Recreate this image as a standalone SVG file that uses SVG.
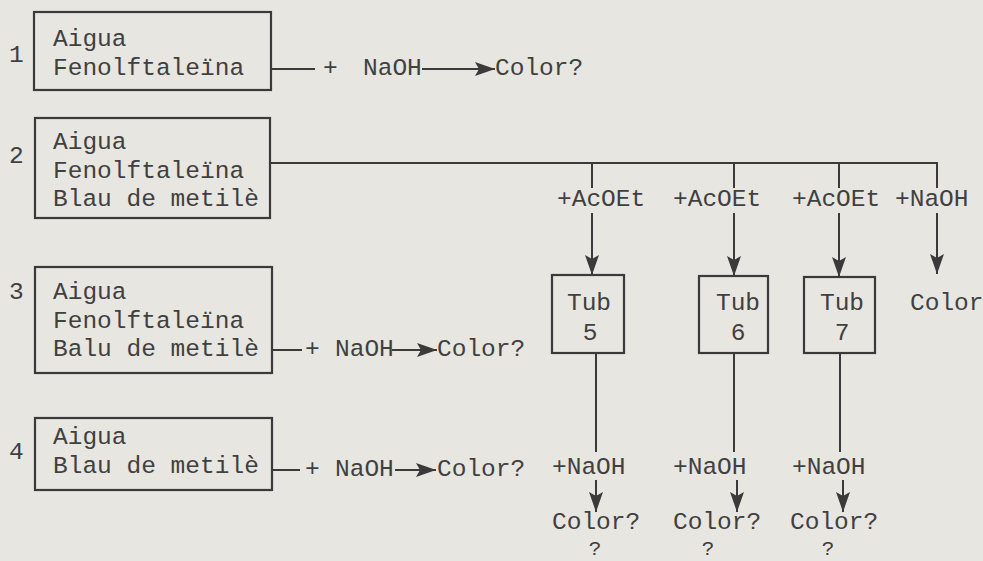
<svg xmlns="http://www.w3.org/2000/svg" width="983" height="561" viewBox="0 0 983 561">
<style>
.t{font-family:"Liberation Mono","DejaVu Sans Mono",monospace;font-size:24.5px;fill:#404040}
.q{font-size:21px}
.b{fill:none;stroke:#3a3a3a;stroke-width:2.2}
.c{fill:none;stroke:#3a3a3a;stroke-width:2}
.m{text-anchor:middle}
</style>
<defs>
<marker id="ah" viewBox="0 0 20 14" refX="20" refY="7" markerWidth="20" markerHeight="14" markerUnits="userSpaceOnUse" orient="auto">
<path d="M0,0 L20,7 L0,14 L4,7 z" fill="#3a3a3a"/>
</marker>
</defs>
<rect width="983" height="561" fill="#e8e6e1"/>

<g id="connectors">
<line class="c" x1="271" y1="69" x2="315" y2="69"/>
<line class="c" x1="422" y1="69" x2="495" y2="69" marker-end="url(#ah)"/>
<line class="c" x1="270" y1="163" x2="938" y2="163"/>
<line class="c" x1="592" y1="163" x2="592" y2="188"/>
<line class="c" x1="592" y1="213" x2="592" y2="275" marker-end="url(#ah)"/>
<line class="c" x1="734" y1="163" x2="734" y2="188"/>
<line class="c" x1="734" y1="213" x2="734" y2="276" marker-end="url(#ah)"/>
<line class="c" x1="839" y1="163" x2="839" y2="188"/>
<line class="c" x1="839" y1="213" x2="839" y2="277" marker-end="url(#ah)"/>
<line class="c" x1="937" y1="163" x2="937" y2="188"/>
<line class="c" x1="937" y1="213" x2="937" y2="274" marker-end="url(#ah)"/>
<line class="c" x1="272" y1="350" x2="302" y2="350"/>
<line class="c" x1="392" y1="350" x2="437" y2="350" marker-end="url(#ah)"/>
<line class="c" x1="272" y1="470" x2="300" y2="470"/>
<line class="c" x1="395" y1="470" x2="436" y2="470" marker-end="url(#ah)"/>
<line class="c" x1="596" y1="353" x2="596" y2="452"/>
<line class="c" x1="734" y1="353" x2="734" y2="452"/>
<line class="c" x1="840" y1="353" x2="840" y2="452"/>
<line class="c" x1="596" y1="480" x2="596" y2="512" marker-end="url(#ah)"/>
<line class="c" x1="737" y1="480" x2="737" y2="512" marker-end="url(#ah)"/>
<line class="c" x1="843" y1="480" x2="843" y2="512" marker-end="url(#ah)"/>
</g>

<g id="labels">
<text class="t" x="323" y="75">+</text>
<text class="t" x="363" y="75">NaOH</text>
<text class="t" x="495" y="75">Color?</text>
<text class="t" x="557" y="206">+AcOEt</text>
<text class="t" x="673" y="206">+AcOEt</text>
<text class="t" x="792" y="206">+AcOEt</text>
<text class="t" x="895" y="206">+NaOH</text>
<text class="t" x="910" y="310">Color</text>
<text class="t" x="305" y="356">+</text>
<text class="t" x="335" y="356">NaOH</text>
<text class="t" x="437" y="356">Color?</text>
<text class="t" x="305" y="476">+</text>
<text class="t" x="335" y="476">NaOH</text>
<text class="t" x="437" y="476">Color?</text>
<text class="t" x="552" y="474">+NaOH</text>
<text class="t" x="673" y="474">+NaOH</text>
<text class="t" x="792" y="474">+NaOH</text>
<text class="t" x="552" y="529">Color?</text>
<text class="t" x="673" y="529">Color?</text>
<text class="t" x="790" y="529">Color?</text>
<text class="t q m" x="595" y="554.5">?</text>
<text class="t q m" x="708" y="554.5">?</text>
<text class="t q m" x="828" y="554.5">?</text>
</g>

<g id="node1">
<text class="t" x="9" y="62">1</text>
<rect class="b" x="34" y="12" width="237" height="78"/>
<text class="t" x="53" y="46">Aigua</text>
<text class="t" x="53" y="75">Fenolftaleïna</text>
</g>
<g id="node2">
<text class="t" x="9" y="163">2</text>
<rect class="b" x="35" y="118" width="235" height="100"/>
<text class="t" x="53" y="149">Aigua</text>
<text class="t" x="53" y="178">Fenolftaleïna</text>
<text class="t" x="53" y="206">Blau de metilè</text>
</g>
<g id="node3">
<text class="t" x="9" y="299">3</text>
<rect class="b" x="35" y="267" width="237" height="106"/>
<text class="t" x="53" y="299">Aigua</text>
<text class="t" x="53" y="328">Fenolftaleïna</text>
<text class="t" x="53" y="356">Balu de metilè</text>
</g>
<g id="node4">
<text class="t" x="9" y="459">4</text>
<rect class="b" x="35" y="418" width="237" height="72"/>
<text class="t" x="53" y="444">Aigua</text>
<text class="t" x="53" y="473">Blau de metilè</text>
</g>
<g id="tub5">
<rect class="b" x="552" y="275" width="72" height="78"/>
<text class="t m" x="589" y="310">Tub</text>
<text class="t m" x="590" y="340">5</text>
</g>
<g id="tub6">
<rect class="b" x="699" y="276" width="69" height="77"/>
<text class="t m" x="738" y="310">Tub</text>
<text class="t m" x="738" y="340">6</text>
</g>
<g id="tub7">
<rect class="b" x="804" y="277" width="71" height="76"/>
<text class="t m" x="842" y="310">Tub</text>
<text class="t m" x="842" y="340">7</text>
</g>
</svg>
